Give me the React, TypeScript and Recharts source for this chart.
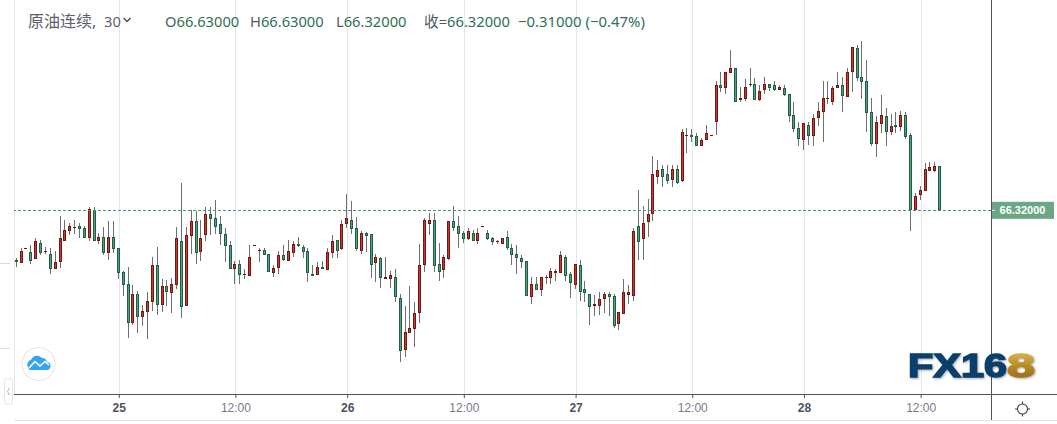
import { BarChart, Bar, XAxis, YAxis, CartesianGrid, ReferenceLine } from "recharts"

const opens = [
  65.970,65.951,66.049,66.024,65.979,66.087,66.026,66.009,65.908,65.958,
  66.106,66.176,66.195,66.207,66.193,66.127,66.320,66.106,66.129,66.021,
  66.129,66.052,65.883,65.798,65.528,65.727,65.570,65.605,65.676,65.932,
  65.655,65.784,65.739,65.796,66.101,65.648,66.141,66.242,66.028,66.148,
  66.292,66.263,66.221,66.151,66.073,65.908,65.939,65.864,65.860,66.071,
  66.036,66.038,66.010,65.881,65.916,66.003,65.965,66.022,66.080,66.059,
  66.031,65.869,65.867,65.918,65.902,66.022,66.109,66.050,66.226,66.250,
  66.193,66.036,66.158,66.151,65.951,65.982,65.838,65.838,65.848,65.700,
  65.338,65.458,65.481,65.599,65.937,66.226,66.250,65.939,65.902,65.979,
  66.243,66.207,66.158,66.120,66.158,66.106,66.205,66.158,66.123,66.097,
  66.085,66.130,66.052,66.010,65.982,65.961,65.711,65.798,65.761,65.843,
  65.845,65.881,65.881,65.989,65.869,65.796,65.932,65.763,65.728,65.646,
  65.648,65.697,65.728,65.714,65.521,65.592,65.726,65.719,66.207,66.120,
  66.240,66.296,66.555,66.609,66.574,66.536,66.609,66.529,66.844,66.851,
  66.844,66.776,66.818,66.847,66.945,67.201,67.185,67.291,67.321,67.100,
  67.107,67.204,67.208,67.098,67.171,67.208,67.201,67.171,67.180,67.138,
  66.990,66.898,66.818,66.919,66.847,66.969,67.016,67.105,67.086,67.185,
  67.201,67.121,67.297,67.462,67.258,67.229,67.011,66.790,66.931,66.983,
  66.875,66.919,66.910,66.990,66.849,66.320,66.430,66.459,66.600,66.600,
  66.630,
]

const highs = [
  65.984,66.052,66.054,66.075,66.125,66.110,66.059,66.052,66.033,66.280,
  66.252,66.230,66.252,66.230,66.209,66.343,66.343,66.160,66.202,66.244,
  66.244,66.052,65.890,65.920,65.793,65.749,65.652,65.744,65.991,66.061,
  65.836,65.829,65.843,66.202,66.512,66.202,66.320,66.315,66.252,66.343,
  66.343,66.393,66.280,66.195,66.101,65.962,65.970,65.907,66.076,66.076,
  66.052,66.052,66.012,65.935,66.033,66.076,66.111,66.104,66.132,66.076,
  66.052,65.935,65.954,65.963,66.052,66.146,66.109,66.250,66.435,66.386,
  66.273,66.174,66.167,66.151,66.012,65.989,65.991,65.892,65.907,65.730,
  65.646,65.787,65.674,66.083,66.266,66.301,66.301,66.090,66.005,66.243,
  66.351,66.280,66.174,66.196,66.181,66.196,66.210,66.179,66.132,66.111,
  66.125,66.174,66.083,66.076,66.005,65.961,65.850,65.850,65.850,65.864,
  65.914,65.907,66.033,66.005,65.885,65.942,65.970,65.822,65.730,65.723,
  65.744,65.744,65.744,65.730,65.601,65.836,65.794,66.196,66.463,66.351,
  66.400,66.703,66.675,66.639,66.639,66.639,66.639,66.893,66.900,66.893,
  66.865,66.830,66.921,66.851,67.230,67.295,67.295,67.450,67.321,67.190,
  67.246,67.324,67.253,67.204,67.260,67.211,67.232,67.204,67.204,67.138,
  67.084,66.943,66.934,66.943,66.999,67.084,67.230,67.230,67.196,67.295,
  67.260,67.323,67.469,67.485,67.514,67.380,67.112,66.985,67.133,67.041,
  66.999,67.013,67.020,67.013,66.865,66.442,66.491,66.654,66.661,66.661,
  66.630,
]

const lows = [
  65.923,65.951,66.049,65.941,65.979,66.005,66.012,65.871,65.906,65.913,
  66.106,66.146,66.153,66.125,66.125,66.103,66.106,66.082,66.005,65.970,
  66.021,65.838,65.716,65.422,65.514,65.455,65.504,65.413,65.610,65.582,
  65.603,65.645,65.596,65.765,65.561,65.648,66.012,65.941,65.962,66.106,
  66.146,66.153,66.075,65.955,65.908,65.800,65.800,65.836,65.857,66.071,
  65.956,66.005,65.888,65.850,65.871,65.963,65.963,65.994,66.064,65.984,
  65.815,65.857,65.864,65.907,65.900,65.984,65.984,66.040,66.196,66.153,
  66.033,66.012,66.026,65.843,65.815,65.773,65.836,65.773,65.674,65.251,
  65.286,65.455,65.357,65.526,65.885,66.146,65.885,65.822,65.843,65.970,
  66.174,66.055,66.090,66.111,66.104,66.083,66.205,66.111,66.076,66.083,
  66.083,66.040,65.935,65.871,65.914,65.716,65.660,65.758,65.716,65.801,
  65.801,65.822,65.878,65.822,65.702,65.766,65.681,65.674,65.512,65.575,
  65.582,65.596,65.575,65.491,65.476,65.589,65.660,65.681,65.970,65.970,
  66.132,66.244,66.505,66.484,66.505,66.484,66.505,66.519,66.724,66.801,
  66.773,66.773,66.815,66.847,66.851,67.154,67.140,67.288,67.086,67.084,
  67.091,67.190,67.098,67.091,67.140,67.161,67.161,67.169,67.126,66.943,
  66.872,66.774,66.746,66.781,66.774,66.915,66.802,67.070,67.063,67.182,
  67.013,67.119,67.154,67.232,67.105,66.872,66.773,66.696,66.865,66.773,
  66.851,66.865,66.879,66.823,66.174,66.320,66.393,66.459,66.597,66.590,
  66.320,
]

const closes = [
  65.958,66.031,66.054,65.965,66.101,66.021,66.033,65.908,65.953,66.122,
  66.179,66.207,66.202,66.190,66.125,66.327,66.106,66.129,66.021,66.129,
  66.049,65.880,65.796,65.528,65.727,65.570,65.608,65.678,65.932,65.650,
  65.784,65.746,65.798,66.122,65.641,66.143,66.242,66.021,66.122,66.292,
  66.261,66.205,66.151,66.071,65.908,65.939,65.866,65.871,65.989,66.076,
  66.040,66.008,65.888,65.911,66.003,65.968,66.031,66.080,66.071,66.029,
  65.881,65.860,65.918,65.909,66.024,66.102,66.036,66.221,66.264,66.191,
  66.050,66.158,66.142,65.937,65.989,65.845,65.848,65.862,65.711,65.331,
  65.460,65.488,65.594,65.932,66.250,66.250,65.930,65.888,65.989,66.243,
  66.198,66.156,66.120,66.172,66.106,66.158,66.210,66.118,66.099,66.104,
  66.123,66.057,66.008,65.986,65.958,65.719,65.798,65.761,65.848,65.850,
  65.890,65.890,66.003,65.860,65.810,65.939,65.747,65.740,65.641,65.657,
  65.693,65.728,65.711,65.507,65.601,65.742,65.742,66.172,66.099,66.228,
  66.292,66.576,66.602,66.557,66.527,66.609,66.512,66.872,66.851,66.839,
  66.776,66.813,66.865,66.851,67.201,67.185,67.293,67.321,67.086,67.110,
  67.187,67.211,67.100,67.159,67.208,67.185,67.171,67.187,67.136,66.988,
  66.896,66.825,66.934,66.847,66.969,67.018,67.110,67.110,67.180,67.201,
  67.128,67.293,67.469,67.255,67.227,67.008,66.790,66.940,66.990,66.875,
  66.912,66.910,66.990,66.839,66.320,66.419,66.461,66.609,66.623,66.630,
  66.320,
]

// bar index -> label on the time axis
const tickIndexes = [21, 45, 68, 92, 115, 139, 162, 186]
const tickLabels = ["25", "12:00", "26", "12:00", "27", "12:00", "28", "12:00"]

const lastPrice = 66.32

const rows = opens.map((open, i) => ({
  i,
  open,
  high: highs[i],
  low: lows[i],
  close: closes[i],
  range: [lows[i], highs[i]],
}))

const UP_FILL = "#d6352b"
const UP_EDGE = "#6e1a14"
const DOWN_FILL = "#4fa27c"
const DOWN_EDGE = "#1f5f43"
const WICK = "#6f6f6f"

const Candle = (props: any) => {
  const { x, y, width, height, payload } = props
  const c = Math.floor(x + width / 2 - 1)
  const h = Math.abs(height)
  const top = Math.min(y, y + height)
  const span = payload.high - payload.low
  const perUnit = span > 0 ? h / span : 0
  const up = payload.close >= payload.open
  const bodyHigh = Math.max(payload.open, payload.close)
  const bodyLow = Math.min(payload.open, payload.close)
  const y1 = Math.round(top + (payload.high - bodyHigh) * perUnit)
  const y2 = Math.max(y1 + 1, Math.round(top + (payload.high - bodyLow) * perUnit))
  return (
    <g shapeRendering="crispEdges">
      <rect x={c} y={top} width={1} height={h} fill={WICK} />
      <rect x={c - 1} y={y1} width={3} height={y2 - y1} fill={up ? UP_EDGE : DOWN_EDGE} />
      {y2 - y1 > 2 && <rect x={c} y={y1 + 1} width={1} height={y2 - y1 - 2} fill={up ? UP_FILL : DOWN_FILL} />}
    </g>
  )
}

const TimeTick = (props: any) => {
  const { x, payload } = props
  const label = tickLabels[tickIndexes.indexOf(payload.value)]
  const isDay = label !== "12:00"
  return (
    <text
      x={x}
      y={412}
      textAnchor="middle"
      fontFamily="Liberation Sans"
      fontSize={12}
      fontWeight={isDay ? 700 : 400}
      fill={isDay ? "#50535e" : "#787b86"}
    >
      {label}
    </text>
  )
}

const PriceTag = (props: any) => {
  const { y } = props
  return (
    <g>
      <rect x={991} y={y - 8.5} width={63} height={17} fill="#6ca784" />
      <rect x={991} y={y - 0.5} width={4} height={1} fill="#ffffff" />
      <text x={1022.5} y={y + 4} textAnchor="middle" fontFamily="Liberation Sans" fontSize={11} fontWeight={700} fill="#ffffff">
        {lastPrice.toFixed(5)}
      </text>
    </g>
  )
}

const headText = (left: number, text: string, color: string, size = 14.7) => (
  <span style={{ position: "absolute", left, top: 11, fontSize: size, lineHeight: "20px", whiteSpace: "nowrap", color }}>{text}</span>
)

const headValue = (left: number, label: string, value: string) => (
  <span style={{ position: "absolute", left, top: 11, fontSize: 14.7, lineHeight: "20px", whiteSpace: "nowrap", color: "#2f6f55" }}>
    <span style={{ color: "#4e5a5f" }}>{label}</span>
    {value}
  </span>
)

const hLine = (left: number, top: number, width: number, background: string) => (
  <div style={{ position: "absolute", left, top, width, height: 1, background }} />
)

export default function App() {
  return (
    <div style={{ position: "absolute", left: 0, top: 0, width: 1057, height: 424, background: "#fff", overflow: "hidden", fontFamily: "'Noto Sans','Noto Sans CJK SC',sans-serif" }}>
      <BarChart width={1057} height={424} data={rows} margin={{ top: 0, right: 0, bottom: 0, left: 14 }}>
        <CartesianGrid vertical horizontal={false} stroke="#dce7f0" shapeRendering="crispEdges" />
        <XAxis
          dataKey="i"
          type="number"
          scale="linear"
          domain={[-0.658, 200.37]}
          ticks={tickIndexes}
          interval={0}
          height={30}
          tickSize={4}
          tickLine={{ stroke: "#50535e" }}
          axisLine={false}
          tick={<TimeTick />}
        />
        <YAxis
          orientation="right"
          width={66}
          domain={[65.025, 67.803]}
          ticks={[lastPrice]}
          axisLine={false}
          tickLine={false}
          tick={<PriceTag />}
        />
        <Bar dataKey="range" barSize={3} isAnimationActive={false} shape={<Candle />} />
        <ReferenceLine y={lastPrice} stroke="#47977a" strokeDasharray="3 2" shapeRendering="crispEdges" />
      </BarChart>

      {hLine(14, 394, 1043, "#50535e")}
      {hLine(14, 420, 1043, "#e0e3eb")}
      {hLine(0, 263, 10, "#dddde6")}
      {hLine(0, 348, 10, "#dddde6")}
      <div style={{ position: "absolute", left: 991, top: 0, width: 1, height: 420, background: "#50535e" }} />

      {headText(28, "原油连续,", "#5d606b", 16)}
      {headText(104, "30", "#5d606b")}
      <svg style={{ position: "absolute", left: 122, top: 16 }} width={10} height={8}>
        <polyline points="1.5,2 5,5.5 8.5,2" fill="none" stroke="#44474f" strokeWidth={1.3} />
      </svg>
      {headValue(165, "O", "66.63000")}
      {headValue(250, "H", "66.63000")}
      {headValue(336, "L", "66.32000")}
      {headValue(424, "收=", "66.32000")}
      {headText(518, "−0.31000 (−0.47%)", "#2f6f55", 14.9)}

      <svg style={{ position: "absolute", left: 0, top: 340 }} width={1057} height={84}>
        <defs>
          <linearGradient id="gold" x1="0" y1="0" x2="0" y2="1">
            <stop offset="0" stopColor="#e8c560" />
            <stop offset="0.55" stopColor="#b8881f" />
            <stop offset="1" stopColor="#8a6414" />
          </linearGradient>
        </defs>
        <circle cx={38.5} cy={24} r={16.5} fill="#fff" stroke="#e8e8e8" strokeWidth={1.2} />
        <path d="M28 27 a4.5 4.5 0 0 1 3 -7 a6.5 6.5 0 0 1 11 -2 a5 5 0 0 1 5 4 a4 4 0 0 1 -1 8 h-16 a3.5 3.5 0 0 1 -2 -3z" fill="#38a3ee" />
        <polyline points="29,28 35,21.5 40,26 45,21.5 49,25" fill="none" stroke="#fff" strokeWidth={1.6} />
        <rect x={4.5} y={38.5} width={8} height={26} rx={3} fill="#fff" stroke="#e4e4e4" />
        <polyline points="9.5,48 7.5,51.5 9.5,55" fill="none" stroke="#a9b4c0" strokeWidth={1} />
        <g style={{ filter: "drop-shadow(1px 1px 1px rgba(0,0,0,0.35))" }}>
          <text x={908} y={36.5} fontFamily="Liberation Sans" fontWeight={700} fontSize={33} textLength={99} lengthAdjust="spacingAndGlyphs" fill="#0b3f6e" stroke="#0b3f6e" strokeWidth={1.5}>
            FX16
          </text>
          <text x={1007} y={36.5} fontFamily="Liberation Sans" fontWeight={700} fontSize={33} textLength={28} lengthAdjust="spacingAndGlyphs" fill="url(#gold)" stroke="url(#gold)" strokeWidth={1.5}>
            8
          </text>
        </g>
        <circle cx={1022.5} cy={69} r={5} fill="none" stroke="#3a3d45" strokeWidth={1.1} />
        <path d="M1022.5 61.5v2.5M1022.5 74v2.5M1015 69h2.5M1027.5 69h2.5" stroke="#3a3d45" strokeWidth={1.1} />
      </svg>
    </div>
  )
}
